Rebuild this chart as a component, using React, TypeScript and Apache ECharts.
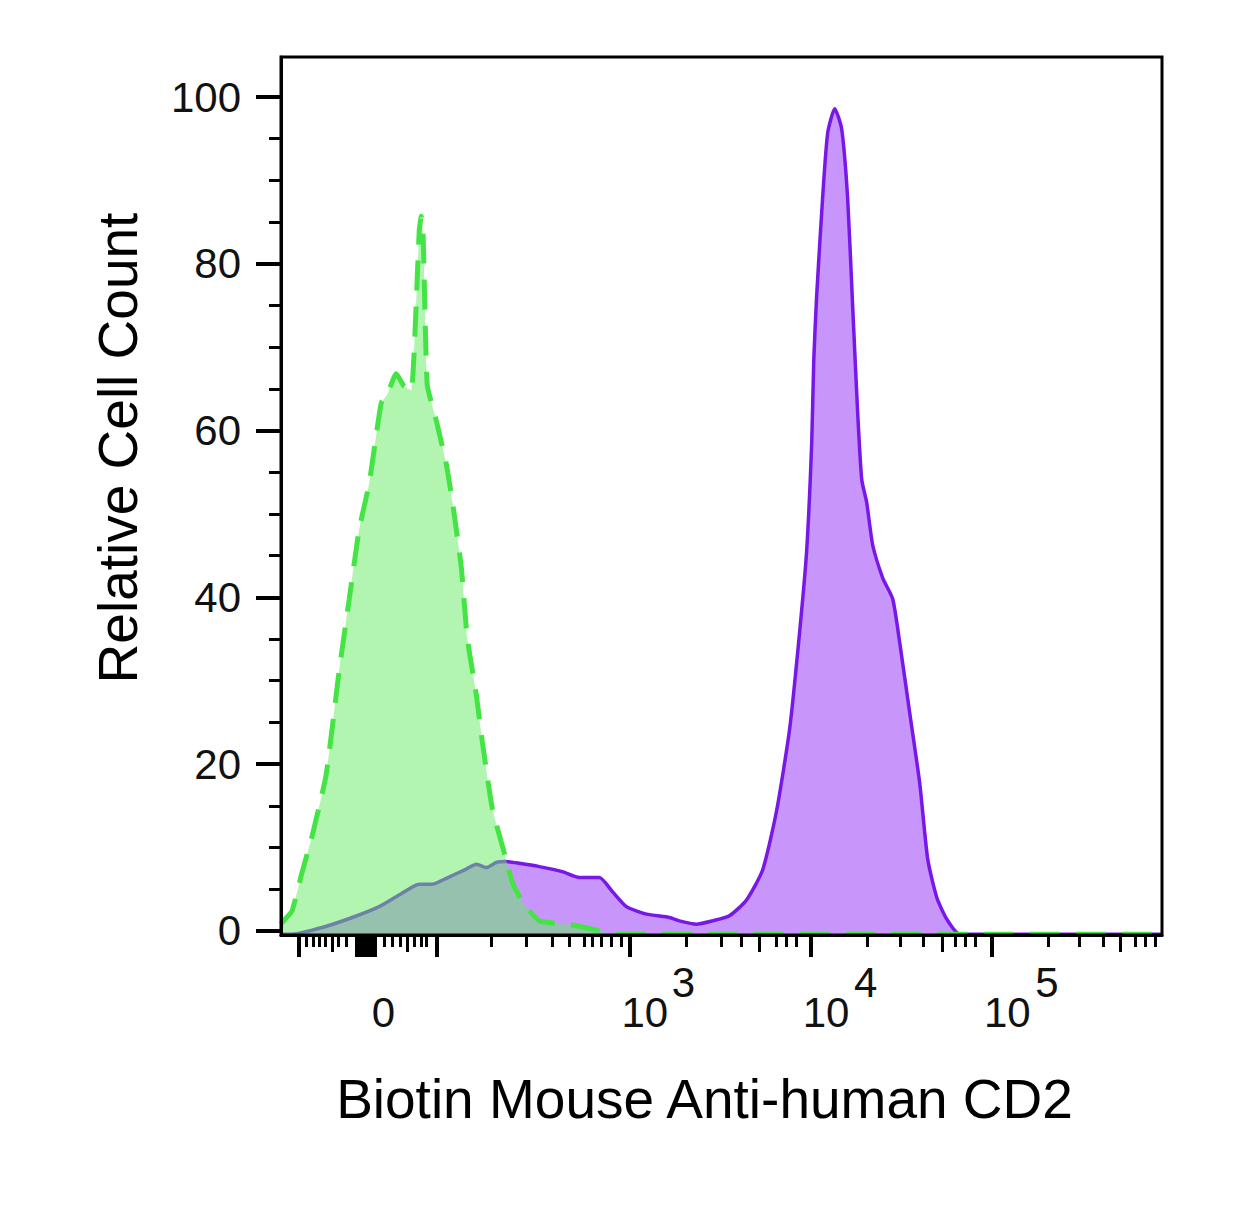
import React, { useEffect, useRef } from "react";
import * as echarts from "echarts";

// X positions are logicle display coordinates in decade units (3 = 10^3, 4 = 10^4, 5 = 10^5).
const X_MIN = 1.077;
const X_MAX = 5.939;
const Y_MIN = -0.5;
const Y_MAX = 104.8;

// Isotype control (green, dashed)
const isoX = [1.077, 1.083, 1.138, 1.193, 1.249, 1.326, 1.398, 1.453, 1.508, 1.564, 1.63, 1.663, 1.713, 1.757, 1.796, 1.84, 1.851, 1.862, 1.884, 1.934, 1.989, 2.022, 2.072, 2.105, 2.155, 2.188, 2.243, 2.32, 2.354, 2.409, 2.503, 2.685, 2.834, 2.9, 3.5, 4.5, 5.939];
const isoY = [0.8, 1.0, 2.4, 7.0, 11.4, 18.7, 31.2, 39.7, 48.1, 53.7, 63.3, 64.3, 66.8, 65.3, 64.8, 84.0, 85.7, 83.0, 65.5, 61.2, 56.0, 51.6, 43.6, 35.1, 28.3, 22.7, 14.7, 8.5, 5.8, 3.5, 1.2, 0.7, 0.0, -0.4, -0.4, -0.4, -0.4];

// Biotin Mouse Anti-human CD2 (purple)
const cd2X = [1.077, 1.138, 1.304, 1.47, 1.619, 1.729, 1.84, 1.912, 1.989, 2.099, 2.155, 2.21, 2.265, 2.32, 2.392, 2.503, 2.63, 2.724, 2.834, 2.906, 2.983, 3.094, 3.221, 3.276, 3.37, 3.459, 3.552, 3.646, 3.735, 3.812, 3.884, 3.939, 3.978, 4.006, 4.017, 4.033, 4.066, 4.094, 4.133, 4.171, 4.204, 4.232, 4.26, 4.282, 4.309, 4.343, 4.398, 4.453, 4.492, 4.547, 4.602, 4.646, 4.696, 4.751, 4.823, 5.5, 5.939];
const cd2Y = [-0.4, -0.4, 0.4, 1.6, 2.9, 4.3, 5.6, 5.6, 6.3, 7.4, 8.0, 7.6, 8.2, 8.3, 8.1, 7.7, 7.1, 6.4, 6.4, 4.7, 2.9, 2.0, 1.6, 1.2, 0.8, 1.2, 1.8, 3.7, 7.3, 14.4, 24.2, 35.8, 45.6, 58.6, 68.3, 76.1, 87.9, 95.7, 98.6, 96.2, 87.9, 74.8, 61.9, 54.1, 51.4, 46.2, 42.3, 39.8, 34.5, 26.1, 17.7, 8.6, 4.0, 1.4, -0.4, -0.4, -0.4];

// Axis ticks (display coordinates)
const xMajorTicks = [1.177, 1.497, 1.514, 1.53, 1.547, 1.564, 1.58, 1.597, 1.934, 3, 4, 5];
const xMidTicks = [1.359, 1.773, 3.718, 4.724, 5.707];
const xMinorTicks = [1.215, 1.254, 1.287, 1.32, 1.392, 1.436, 1.646, 1.691, 1.735, 1.812, 1.851, 1.878, 2.238, 2.431, 2.575, 2.669, 2.751, 2.796, 2.845, 2.901, 2.956, 3.315, 3.508, 3.619, 3.812, 3.867, 3.923, 4.315, 4.492, 4.619, 4.796, 4.851, 4.906, 5.309, 5.481, 5.613, 5.79, 5.845, 5.901];
const xBaseLabelPos = [1.642, 3.085, 4.085, 5.085];
const xBaseLabels = ["0", "10", "10", "10"];
const xExpLabelPos = [3.298, 4.304, 5.304];
const xExpLabels = ["3", "4", "5"];
const yMajorTicks = [0, 20, 40, 60, 80, 100];
const yTickLabels = ["0", "20", "40", "60", "80", "100"];
const yMinorTicks = [5, 10, 15, 25, 30, 35, 45, 50, 55, 65, 70, 75, 85, 90, 95];

const X_TITLE = "Biotin Mouse Anti-human CD2";
const Y_TITLE = "Relative Cell Count";

const FONT = "'Liberation Sans', Arial, sans-serif";

function lookup(positions: number[], labels: string[]) {
  return (v: number) => {
    for (let i = 0; i < positions.length; i++) {
      if (Math.abs(positions[i] - v) < 1e-6) return labels[i];
    }
    return "";
  };
}

export default function App() {
  const ref = useRef<HTMLDivElement>(null);

  useEffect(() => {
    if (!ref.current) return;
    const chart = echarts.init(ref.current, null, { renderer: "svg" });

    const baseX = {
      type: "value" as const,
      min: X_MIN,
      max: X_MAX,
      gridIndex: 0,
      position: "bottom" as const,
      splitLine: { show: false },
    };
    const baseY = {
      type: "value" as const,
      min: Y_MIN,
      max: Y_MAX,
      gridIndex: 0,
      position: "left" as const,
      splitLine: { show: false },
    };
    const tickStyle = (w: number) => ({ color: "#000", width: w });

    chart.setOption({
      animation: false,
      backgroundColor: "#fff",
      grid: {
        left: 281,
        top: 57,
        width: 881,
        height: 878,
        show: true,
        borderColor: "#000",
        borderWidth: 3,
        backgroundColor: "transparent",
        containLabel: false,
        outerBoundsMode: "none",
        z: 10,
      },
      xAxis: [
        {
          ...baseX,
          z: 10,
          axisLine: { show: true, onZero: false, lineStyle: tickStyle(3) },
          axisTick: { show: true, customValues: xMajorTicks, length: 22, lineStyle: tickStyle(4) },
          axisLabel: { show: false },
          name: X_TITLE,
          nameLocation: "middle",
          nameGap: 136,
          nameTextStyle: { fontSize: 55, color: "#000", fontFamily: FONT, padding: [0, 34, 0, 0] },
        },
        {
          ...baseX,
          axisLine: { show: false, onZero: false },
          axisTick: { show: true, customValues: xMidTicks, length: 17, lineStyle: tickStyle(3) },
          axisLabel: { show: false },
        },
        {
          ...baseX,
          axisLine: { show: false, onZero: false },
          axisTick: { show: true, customValues: xMinorTicks, length: 12, lineStyle: tickStyle(3) },
          axisLabel: { show: false },
        },
        {
          ...baseX,
          axisLine: { show: false, onZero: false },
          axisTick: { show: false },
          axisLabel: {
            show: true,
            customValues: xBaseLabelPos,
            formatter: lookup(xBaseLabelPos, xBaseLabels),
            margin: 56,
            fontSize: 42,
            color: "#111",
            fontFamily: FONT,
          },
        },
        {
          ...baseX,
          axisLine: { show: false, onZero: false },
          axisTick: { show: false },
          axisLabel: {
            show: true,
            customValues: xExpLabelPos,
            formatter: lookup(xExpLabelPos, xExpLabels),
            margin: 26,
            fontSize: 42,
            color: "#111",
            fontFamily: FONT,
          },
        },
      ],
      yAxis: [
        {
          ...baseY,
          z: 10,
          axisLine: { show: true, onZero: false, lineStyle: tickStyle(3) },
          axisTick: { show: true, customValues: yMajorTicks, length: 25, lineStyle: tickStyle(4) },
          axisLabel: {
            show: true,
            customValues: yMajorTicks,
            formatter: lookup(yMajorTicks, yTickLabels),
            margin: 40,
            fontSize: 42,
            color: "#111",
            fontFamily: FONT,
          },
          name: Y_TITLE,
          nameLocation: "middle",
          nameRotate: 90,
          nameGap: 136,
          nameTextStyle: { fontSize: 55, color: "#000", fontFamily: FONT, padding: [0, 0, 0, 96] },
        },
        {
          ...baseY,
          axisLine: { show: false, onZero: false },
          axisTick: { show: true, customValues: yMinorTicks, length: 12, lineStyle: tickStyle(3) },
          axisLabel: { show: false },
        },
      ],
      series: [
        {
          name: "CD2",
          type: "line",
          xAxisIndex: 0,
          yAxisIndex: 0,
          data: cd2X.map((x, i) => [x, cd2Y[i]]),
          symbol: "none",
          showSymbol: false,
          smooth: 0.2,
          lineStyle: { color: "#7718e8", width: 3.5 },
          areaStyle: { color: "#c896fa", opacity: 1, origin: "start" },
          z: 2,
        },
        {
          name: "Isotype",
          type: "line",
          xAxisIndex: 0,
          yAxisIndex: 0,
          data: isoX.map((x, i) => [x, isoY[i]]),
          symbol: "none",
          showSymbol: false,
          smooth: 0.15,
          lineStyle: { color: "#45e445", width: 5, type: [30, 16] },
          areaStyle: { color: "rgba(100,235,100,0.5)", opacity: 1, origin: "start" },
          z: 3,
        },
      ],
    });

    return () => {
      chart.dispose();
    };
  }, []);

  return (
    <div
      ref={ref}
      style={{ position: "fixed", left: 0, top: 0, width: 1244, height: 1213, background: "#fff" }}
    />
  );
}
